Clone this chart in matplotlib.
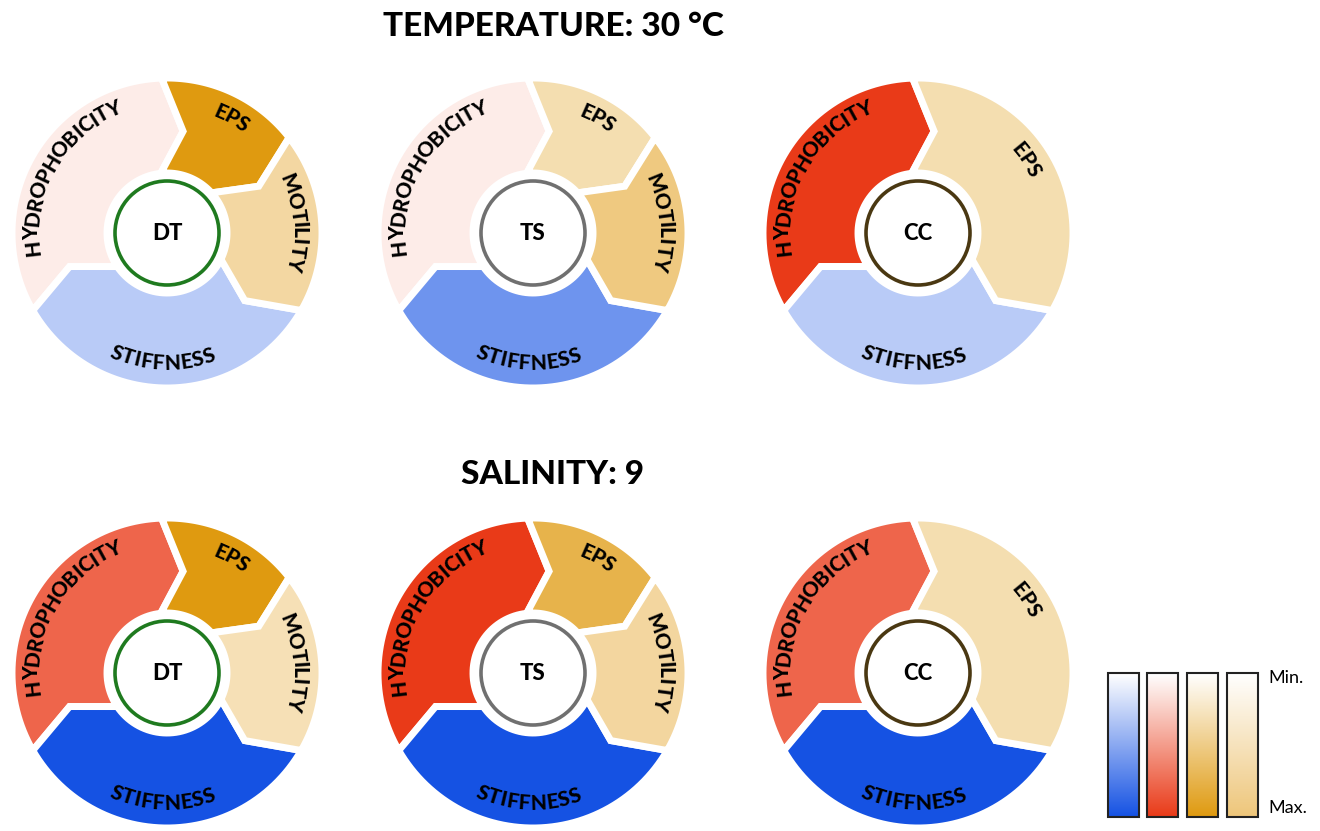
import numpy as np
import matplotlib
matplotlib.use('Agg')
import matplotlib.pyplot as plt
from matplotlib.patches import Polygon, Circle, Rectangle
from matplotlib.colors import LinearSegmentedColormap
from matplotlib.font_manager import FontProperties
from matplotlib.textpath import text_to_path

# data: intensity levels (0 = min, 1 = max)
strains = ['DT', 'TS', 'CC']
ring_colors = ['#1f7a1f', '#707070', '#4a3812']
conditions = ['TEMPERATURE: 30 °C', 'SALINITY: 9']

temp_hydro = [0.10, 0.10, 1.00]
temp_eps = [1.00, 0.33, 0.33]
temp_motility = [0.70, 0.95, None]
temp_stiffness = [0.30, 0.62, 0.30]

sal_hydro = [0.78, 1.00, 0.78]
sal_eps = [1.00, 0.75, 0.33]
sal_motility = [0.55, 0.72, None]
sal_stiffness = [1.00, 1.00, 1.00]

max_colors = {'STIFFNESS': '#1552e3', 'HYDROPHOBICITY': '#e93a18',
              'EPS': '#df9a10', 'MOTILITY': '#eec67a'}
legend_order = ['STIFFNESS', 'HYDROPHOBICITY', 'EPS', 'MOTILITY']

FONT = 'Lato'
PX = 100 / 72.0
W, H = 1320, 831

cmaps = {k: LinearSegmentedColormap.from_list(k, ['#ffffff', c]) for k, c in max_colors.items()}

R_OUT, R_MID, R_IN = 155, 103, 60
DELTA, EPSI = 11, 4


def pol(cx, cy, r, a):
    t = np.radians(a)
    return (cx + r * np.cos(t), cy + r * np.sin(t))


def segment(ax, cx, cy, a1, a2, color):
    pts = [pol(cx, cy, R_OUT, a) for a in np.linspace(a1, a2, 60)]
    pts.append(pol(cx, cy, R_MID, a2 - DELTA))
    pts += [pol(cx, cy, R_IN, a) for a in np.linspace(a2 + EPSI, a1 + EPSI, 40)]
    pts.append(pol(cx, cy, R_MID, a1 - DELTA))
    ax.add_patch(Polygon(pts, closed=True, facecolor=color, edgecolor='white',
                         lw=5, joinstyle='miter', zorder=2))


def arc_text(ax, cx, cy, s, theta_c, r, size, outward=True):
    fp = FontProperties(family=FONT, weight='black', size=size)
    cum = [0.0] + [text_to_path.get_text_width_height_descent(s[:i + 1], fp, ismath=False)[0] * PX
                   for i in range(len(s))]
    total = cum[-1]
    cap = size * PX * 0.72
    for i, ch in enumerate(s):
        mid = (cum[i] + cum[i + 1]) / 2 - total / 2
        if outward:
            th = np.radians(theta_c) - mid / r
            rb = r - cap / 2
            rot = np.degrees(th) - 90
        else:
            th = np.radians(theta_c) + mid / r
            rb = r + cap / 2
            rot = np.degrees(th) + 90
        ax.text(cx + rb * np.cos(th), cy + rb * np.sin(th), ch, rotation=rot,
                rotation_mode='anchor', ha='center', va='baseline',
                fontproperties=fp, color='black', zorder=5)


fig = plt.figure(figsize=(W / 100, H / 100), dpi=100)
ax = fig.add_axes([0, 0, 1, 1])
ax.axis('off')

xs = [167, 533, 918]
ys = [H - 233, H - 673]
title_y = [H - 27, H - 475]
levels = [(temp_hydro, temp_eps, temp_motility, temp_stiffness),
          (sal_hydro, sal_eps, sal_motility, sal_stiffness)]

for row in range(2):
    hydro, eps, mot, stiff = levels[row]
    cy = ys[row]
    ax.text(553, title_y[row], conditions[row], ha='center', va='center',
            fontsize=24, fontweight='black', family=FONT)
    for j, name in enumerate(strains):
        cx = xs[j]
        segment(ax, cx, cy, 210, 92, cmaps['HYDROPHOBICITY'](hydro[j]))
        segment(ax, cx, cy, -30, -150, cmaps['STIFFNESS'](stiff[j]))
        arc_text(ax, cx, cy, 'HYDROPHOBICITY', 150, 136, 15)
        arc_text(ax, cx, cy, 'STIFFNESS', -92, 129, 15, outward=False)
        if mot[j] is None:
            segment(ax, cx, cy, 92, -30, cmaps['EPS'](eps[j]))
            arc_text(ax, cx, cy, 'EPS', 34, 132, 15)
        else:
            segment(ax, cx, cy, 92, 38, cmaps['EPS'](eps[j]))
            segment(ax, cx, cy, 38, -30, cmaps['MOTILITY'](mot[j]))
            arc_text(ax, cx, cy, 'EPS', 61, 133, 15)
            arc_text(ax, cx, cy, 'MOTILITY', 5, 133, 15)
        ax.add_patch(Circle((cx, cy), 52, facecolor='white', edgecolor=ring_colors[j],
                            lw=2.6, zorder=3))
        ax.text(cx, cy, name, ha='center', va='center', fontsize=16,
                fontweight='black', family=FONT, zorder=4)

# colour scale legend
grad = np.linspace(1, 0, 200).reshape(-1, 1)
bx = [1108, 1147, 1187, 1227]
for k, key in enumerate(legend_order):
    x0 = bx[k]
    ax.imshow(grad, extent=[x0, x0 + 31, H - 817, H - 673], cmap=cmaps[key],
              vmin=0, vmax=1, origin='lower', aspect='auto', zorder=2)
    ax.add_patch(Rectangle((x0, H - 817), 31, 144, fill=False, edgecolor='#222222',
                           lw=1.5, zorder=3))
ax.text(1268, H - 678, 'Min.', ha='left', va='center', fontsize=13, family=FONT)
ax.text(1268, H - 808, 'Max.', ha='left', va='center', fontsize=13, family=FONT)

ax.set_xlim(0, W)
ax.set_ylim(0, H)
fig.savefig('out.png', dpi=100, facecolor='white')
